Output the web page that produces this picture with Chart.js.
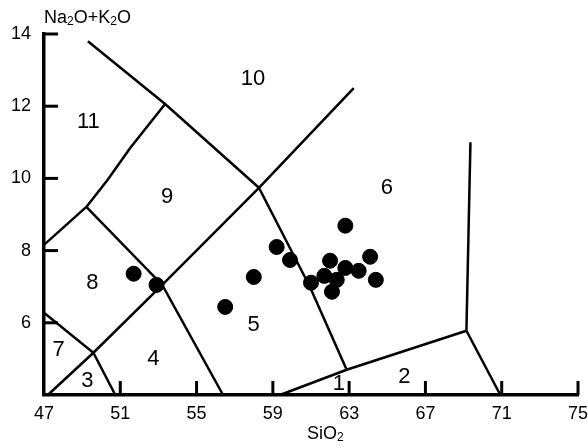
<!DOCTYPE html>
<html>
<head>
<meta charset="utf-8">
<script src="https://cdn.jsdelivr.net/npm/chart.js@4.4.0/dist/chart.umd.min.js"></script>
<style>
  html, body { margin: 0; padding: 0; background: #fff; }
  #wrap { width: 588px; height: 447px; }
</style>
</head>
<body>
<div id="wrap"><canvas id="tas"></canvas></div>
<script>
// axis ticks
const siO2Ticks = [47, 51, 55, 59, 63, 67, 71, 75];
const alkTicks = [6, 8, 10, 12, 14];

// muestras (SiO2, Na2O+K2O)
const sampleSiO2 = [51.7, 52.9, 56.5, 58.0, 59.2, 59.9, 61.0, 61.7, 62.0, 62.35, 62.1, 62.8, 63.5, 64.1, 64.4, 62.8];
const sampleAlk  = [7.36, 7.05, 6.44, 7.27, 8.10, 7.74, 7.11, 7.30, 7.72, 7.19, 6.86, 7.52, 7.44, 7.83, 7.19, 8.69];

// field boundaries [SiO2, alkali]
const line10_11 = [[49.3, 13.8], [53.35, 12.06], [58.27, 9.74]];
const line9_11  = [[53.35, 12.06], [51.52, 10.84], [50.32, 9.95], [49.22, 9.21]];
const line8_11  = [[47.0, 8.16], [49.22, 9.21]];
const line8_9   = [[49.22, 9.21], [53.2, 7.05], [56.39, 4.0]];
const lineMain  = [[47.2, 4.0], [49.59, 5.17], [53.2, 7.05], [58.27, 9.74], [63.24, 12.5]];
const line3_7   = [[47.0, 6.28], [49.59, 5.17], [50.74, 4.0]];
const line5_6   = [[58.27, 9.74], [60.94, 7.0], [62.87, 4.7]];
const line2_5   = [[59.37, 4.0], [62.87, 4.7], [69.15, 5.78]];
const line6_top = [[69.15, 5.78], [69.36, 11.0]];
const line2_r   = [[69.15, 5.78], [70.93, 4.0]];
const boundaries = [line10_11, line9_11, line8_11, line8_9, lineMain, line3_7, line5_6, line2_5, line6_top, line2_r];

// field numbers
const fieldNames = ['1', '2', '3', '4', '5', '6', '7', '8', '9', '10', '11'];
const fieldSiO2  = [62.46, 65.9, 49.27, 52.73, 57.99, 64.98, 47.76, 49.54, 53.45, 57.96, 49.33];
const fieldAlk   = [4.32, 4.5, 4.39, 5.0, 5.94, 9.74, 5.25, 7.1, 9.49, 12.75, 11.56];

const FONT = '"Liberation Sans", Arial, sans-serif';

var datasets = boundaries.map(function (l) {
    return {
        type: 'line',
        data: l.map(function (p) { return { x: p[0], y: p[1] }; }),
        borderColor: '#000',
        borderWidth: 2.5,
        pointRadius: 0,
        tension: 0,
        fill: false,
        clip: false
    };
});
datasets.push({
    type: 'scatter',
    data: sampleSiO2.map(function (v, i) { return { x: v, y: sampleAlk[i] }; }),
    backgroundColor: '#000',
    borderColor: '#000',
    pointRadius: 7.5,
    clip: false
});

// marcas de eje hacia dentro + textos
var decorPlugin = {
    id: 'decor',
    afterDraw: function (chart) {
        var ctx = chart.ctx, xs = chart.scales.x, ys = chart.scales.y, a = chart.chartArea;
        ctx.save();
        ctx.strokeStyle = '#000';
        ctx.lineWidth = 3;
        alkTicks.forEach(function (v) {
            var py = ys.getPixelForValue(v);
            ctx.beginPath(); ctx.moveTo(a.left, py); ctx.lineTo(a.left + 14, py); ctx.stroke();
        });
        siO2Ticks.slice(1).forEach(function (v) {
            var px = xs.getPixelForValue(v);
            ctx.beginPath(); ctx.moveTo(px, a.bottom); ctx.lineTo(px, a.bottom - 14); ctx.stroke();
        });

        ctx.fillStyle = '#000';
        ctx.textAlign = 'center';
        ctx.textBaseline = 'middle';
        ctx.font = '22px ' + FONT;
        fieldNames.forEach(function (n, i) {
            ctx.fillText(n, xs.getPixelForValue(fieldSiO2[i]), ys.getPixelForValue(fieldAlk[i]));
        });

        // titulos con subindices
        function rich(parts, x, y) {
            ctx.textAlign = 'left';
            ctx.textBaseline = 'alphabetic';
            parts.forEach(function (p) {
                ctx.font = (p[1] ? '12px ' : '18px ') + FONT;
                ctx.fillText(p[0], x, y + (p[1] ? 2 : 0));
                x += ctx.measureText(p[0]).width;
            });
        }
        rich([['Na', 0], ['2', 1], ['O+K', 0], ['2', 1], ['O', 0]], 44, 23);
        rich([['SiO', 0], ['2', 1]], 307, 439);
        ctx.restore();
    }
};

new Chart(document.getElementById('tas'), {
    type: 'scatter',
    data: { datasets: datasets },
    options: {
        responsive: true,
        maintainAspectRatio: false,
        animation: false,
        layout: { padding: { top: 34, right: 10, left: 0, bottom: 0 } },
        plugins: { legend: { display: false }, tooltip: { enabled: false } },
        scales: {
            x: {
                type: 'linear', min: 47, max: 75,
                afterBuildTicks: function (s) { s.ticks = siO2Ticks.map(function (v) { return { value: v }; }); },
                afterFit: function (s) { s.height = 52; s.paddingLeft = 0; s.paddingRight = 0; },
                grid: { display: false, drawTicks: false },
                border: { display: true, color: '#000', width: 3.5 },
                ticks: { color: '#000', padding: 8, maxRotation: 0, autoSkip: false, font: { family: FONT, size: 18 } }
            },
            y: {
                type: 'linear', min: 4, max: 14,
                afterBuildTicks: function (s) { s.ticks = alkTicks.map(function (v) { return { value: v }; }); },
                afterFit: function (s) { s.width = 44; s.paddingTop = 0; s.paddingBottom = 0; },
                grid: { display: false, drawTicks: false },
                border: { display: true, color: '#000', width: 3.5 },
                ticks: { color: '#000', padding: 13, autoSkip: false, font: { family: FONT, size: 18 } }
            }
        }
    },
    plugins: [decorPlugin]
});
</script>
</body>
</html>
